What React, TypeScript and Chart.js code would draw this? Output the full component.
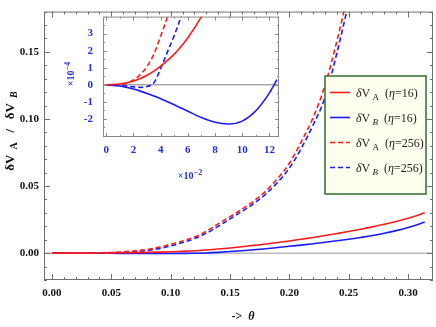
import React, { useEffect, useRef } from "react";
import { Chart, registerables } from "chart.js";

Chart.register(...registerables);

// ---------- main plot data (theta in rad, dV dimensionless) ----------
const theta = [0, 0.01, 0.02, 0.03, 0.04, 0.05, 0.06, 0.07, 0.08, 0.09, 0.1, 0.11, 0.12, 0.13, 0.14, 0.15, 0.16, 0.17, 0.18, 0.19, 0.2, 0.21, 0.22, 0.23, 0.24, 0.25, 0.26, 0.27, 0.28, 0.29, 0.3, 0.31, 0.314];
const dVA16 = [0, 0.000005, 0.000022, 0.000056, 0.00011, 0.00018, 0.00028, 0.0004, 0.00055, 0.00075, 0.001, 0.0014, 0.0018, 0.0024, 0.0031, 0.0039, 0.0048, 0.0058, 0.0068, 0.0079, 0.0091, 0.0104, 0.0117, 0.0131, 0.0146, 0.0161, 0.0178, 0.0196, 0.0215, 0.0236, 0.026, 0.0288, 0.0302];
const dVB16 = [0, -0.000008, -0.000026, -0.000052, -0.000083, -0.000117, -0.000155, -0.000193, -0.000222, -0.000231, -0.000212, -0.00015, -0.00004, 0.00015, 0.0006, 0.0012, 0.0018, 0.0025, 0.0033, 0.0042, 0.0051, 0.006, 0.007, 0.0081, 0.0092, 0.0104, 0.0117, 0.0131, 0.0148, 0.0168, 0.0192, 0.022, 0.0233];
const dVA256 = [0, 0.000002, 0.00003, 0.00011, 0.00029, 0.00054, 0.001, 0.0017, 0.0028, 0.0044, 0.0065, 0.009, 0.012, 0.0163, 0.0218, 0.0272, 0.0328, 0.0388, 0.0462, 0.0555, 0.067, 0.083, 0.101, 0.125, 0.158, 0.196, 0.238, null, null, null, null, null, null];
const dVB256 = [0, -0.000003, -0.000013, -0.00001, 0.00009, 0.00029, 0.00058, 0.0011, 0.002, 0.0034, 0.0054, 0.0079, 0.0109, 0.0148, 0.02, 0.0255, 0.0311, 0.0369, 0.044, 0.0527, 0.0635, 0.078, 0.0955, 0.116, 0.149, 0.187, 0.228, null, null, null, null, null, null];

const mainXTicks = [0, 0.05, 0.1, 0.15, 0.2, 0.25, 0.3];
const mainYTicks = [0, 0.05, 0.1, 0.15];

// ---------- inset data (theta in 10^-2 rad, dV in 10^-4) ----------
const insetTheta = [0, 1, 2, 2.5, 3, 3.5, 4, 4.5, 5, 5.5, 6, 7, 8, 9, 10, 11, 12, 12.55];
const insetVA16 = [0, 0.05, 0.22, 0.37, 0.56, 0.8, 1.09, 1.43, 1.8, 2.25, 2.76, 4.0, 5.5, null, null, null, null, null];
const insetVB16 = [0, -0.07, -0.25, -0.37, -0.51, -0.66, -0.82, -0.99, -1.17, -1.36, -1.55, -1.92, -2.2, -2.3, -2.13, -1.52, -0.47, 0.3];
const insetVA256 = [0, 0.02, 0.28, 0.6, 1.08, 1.8, 2.85, 4.0, 5.4, null, null, null, null, null, null, null, null, null];
const insetVB256 = [0, -0.03, -0.12, -0.15, -0.1, 0.12, 0.95, 1.93, 2.9, 4.0, 5.3, null, null, null, null, null, null, null];

const insetXTicks = [0, 2, 4, 6, 8, 10, 12];
const insetYTicks = [-2, -1, 0, 1, 2, 3];

const RED = "#ff1a1a";
const BLUE = "#1a1aff";
const LABEL_BLUE = "#1f2fe0";
const SERIF = '"Liberation Serif", "Times New Roman", serif';

type Run = { t: string; italic?: boolean; sub?: boolean; sup?: boolean };

function fontFor(r: Run, size: number, bold: boolean) {
  const s = r.sub || r.sup ? Math.round(size * 0.75) : size;
  return `${r.italic ? "italic " : ""}${bold ? "bold " : ""}${s}px ${SERIF}`;
}
function runsWidth(ctx: CanvasRenderingContext2D, runs: Run[], size: number, bold: boolean) {
  let w = 0;
  for (const r of runs) {
    ctx.font = fontFor(r, size, bold);
    w += ctx.measureText(r.t).width;
  }
  return w;
}
function drawRuns(ctx: CanvasRenderingContext2D, runs: Run[], x: number, y: number, size: number, bold: boolean, color: string, align: "left" | "center") {
  const total = runsWidth(ctx, runs, size, bold);
  let cx = align === "center" ? x - total / 2 : x;
  ctx.fillStyle = color;
  ctx.textBaseline = "alphabetic";
  ctx.textAlign = "left";
  for (const r of runs) {
    ctx.font = fontFor(r, size, bold);
    const dy = r.sub ? size * 0.3 : r.sup ? -size * 0.4 : 0;
    ctx.fillText(r.t, cx, y + dy);
    cx += ctx.measureText(r.t).width;
  }
}

function drawFrameTicks(chart: any, xMinorStep: number, yMinorStep: number, majLen: number, minLen: number, color: string, xMaj: number[], yMaj: number[]) {
  const { ctx, chartArea, scales } = chart;
  const { left, right, top, bottom } = chartArea;
  const xs = scales.x, ys = scales.y;
  ctx.save();
  ctx.strokeStyle = color;
  ctx.lineWidth = 1;
  ctx.strokeRect(left + 0.5, top + 0.5, right - left - 1, bottom - top - 1);
  ctx.beginPath();
  const start = Math.ceil(xs.min / xMinorStep - 1e-9);
  for (let i = start; i * xMinorStep <= xs.max + 1e-9; i++) {
    const v = i * xMinorStep;
    const isMaj = xMaj.some((m) => Math.abs(m - v) < 1e-9);
    const len = isMaj ? majLen : minLen;
    const px = Math.round(xs.getPixelForValue(v)) + 0.5;
    ctx.moveTo(px, bottom);
    ctx.lineTo(px, bottom - len);
    ctx.moveTo(px, top);
    ctx.lineTo(px, top + len);
  }
  const ystart = Math.ceil(ys.min / yMinorStep - 1e-9);
  for (let i = ystart; i * yMinorStep <= ys.max + 1e-9; i++) {
    const v = i * yMinorStep;
    const isMaj = yMaj.some((m) => Math.abs(m - v) < 1e-9);
    const len = isMaj ? majLen : minLen;
    const py = Math.round(ys.getPixelForValue(v)) + 0.5;
    ctx.moveTo(left, py);
    ctx.lineTo(left + len, py);
    ctx.moveTo(right, py);
    ctx.lineTo(right - len, py);
  }
  ctx.stroke();
  ctx.restore();
}

function zeroLine(chart: any, color: string, width: number) {
  const { ctx, chartArea, scales } = chart;
  const py = scales.y.getPixelForValue(0);
  ctx.save();
  ctx.strokeStyle = color;
  ctx.lineWidth = width;
  ctx.beginPath();
  ctx.moveTo(chartArea.left, py);
  ctx.lineTo(chartArea.right, py);
  ctx.stroke();
  ctx.restore();
}

function ds(xs: number[], ys: (number | null)[], color: string, dashed: boolean, clip?: number) {
  return {
    data: xs.map((x, i) => ({ x, y: ys[i] })),
    borderColor: color,
    backgroundColor: color,
    borderWidth: 1.6,
    borderDash: dashed ? [5, 3] : [],
    pointRadius: 0,
    cubicInterpolationMode: "monotone" as const,
    fill: false,
    spanGaps: false,
    ...(clip !== undefined ? { clip } : {}),
  };
}

const legendItems: { color: string; dashed: boolean; runs: Run[] }[] = [
  { color: RED, dashed: false, runs: [{ t: "δ", italic: true }, { t: "V" }, { t: " A", sub: true }, { t: "  (" }, { t: "η", italic: true }, { t: "=16)" }] },
  { color: BLUE, dashed: false, runs: [{ t: "δ", italic: true }, { t: "V" }, { t: " B", sub: true, italic: true }, { t: "  (" }, { t: "η", italic: true }, { t: "=16)" }] },
  { color: RED, dashed: true, runs: [{ t: "δ", italic: true }, { t: "V" }, { t: " A", sub: true }, { t: "  (" }, { t: "η", italic: true }, { t: "=256)" }] },
  { color: BLUE, dashed: true, runs: [{ t: "δ", italic: true }, { t: "V" }, { t: " B", sub: true, italic: true }, { t: "  (" }, { t: "η", italic: true }, { t: "=256)" }] },
];

export default function App() {
  const mainRef = useRef<HTMLCanvasElement | null>(null);
  const insetRef = useRef<HTMLCanvasElement | null>(null);

  useEffect(() => {
    const mainDeco = {
      id: "mainDeco",
      beforeDatasetsDraw(chart: any) {
        zeroLine(chart, "#9a9a9a", 1);
      },
      afterDraw(chart: any) {
        const ctx = chart.ctx as CanvasRenderingContext2D;
        drawFrameTicks(chart, 0.01, 0.01, 6, 3, "#6f6f6f", mainXTicks, mainYTicks);
        ctx.save();
        const lx = 325, ly = 76, lw = 101, lh = 118;
        ctx.fillStyle = "#fffff0";
        ctx.fillRect(lx, ly, lw, lh);
        ctx.strokeStyle = "#2e6e2e";
        ctx.lineWidth = 1.5;
        ctx.strokeRect(lx, ly, lw, lh);
        const rows = [92.5, 117.5, 142.5, 167.5];
        legendItems.forEach((it, i) => {
          const cy = rows[i];
          ctx.strokeStyle = it.color;
          ctx.lineWidth = 1.6;
          ctx.setLineDash(it.dashed ? [5, 3] : []);
          ctx.beginPath();
          ctx.moveTo(330, cy);
          ctx.lineTo(350, cy);
          ctx.stroke();
          ctx.setLineDash([]);
          drawRuns(ctx, it.runs, 356, cy + 4, 12, false, "#222", "left");
        });
        ctx.save();
        ctx.translate(9, 131);
        ctx.rotate(-Math.PI / 2);
        drawRuns(ctx, [{ t: "δV" }, { t: "  A", sub: true }, { t: "   /   δV" }, { t: "  B", sub: true, italic: true }], 0, 4.5, 13, true, "#111", "center");
        ctx.restore();
        drawRuns(ctx, [{ t: "->  " }, { t: "θ", italic: true }], 243, 320, 12, true, "#111", "center");
        ctx.restore();
      },
    };

    const axisCommon = {
      grid: { display: false, drawTicks: false },
      border: { display: false },
    };

    const main = new Chart(mainRef.current as HTMLCanvasElement, {
      type: "line",
      data: {
        datasets: [
          ds(theta, dVA16, RED, false),
          ds(theta, dVB16, BLUE, false),
          ds(theta, dVA256, RED, true),
          ds(theta, dVB256, BLUE, true),
        ] as any,
      },
      options: {
        animation: false,
        responsive: false,
        maintainAspectRatio: false,
        layout: { padding: { top: 1, right: 3, left: 0, bottom: 0 } },
        plugins: { legend: { display: false }, tooltip: { enabled: false } },
        scales: {
          x: {
            type: "linear",
            min: -0.0067,
            max: 0.321,
            ...axisCommon,
            ticks: {
              font: { family: SERIF, size: 11, weight: "bold" },
              color: "#111",
              padding: 7,
              maxRotation: 0,
              autoSkip: false,
              callback: (v: any) => Number(v).toFixed(2),
            },
            afterBuildTicks: (s: any) => {
              s.ticks = mainXTicks.map((v) => ({ value: v }));
            },
            afterFit: (s: any) => {
              s.height = 47;
            },
          },
          y: {
            type: "linear",
            min: -0.02,
            max: 0.18,
            ...axisCommon,
            ticks: {
              font: { family: SERIF, size: 11, weight: "bold" },
              color: "#111",
              padding: 5,
              autoSkip: false,
              callback: (v: any) => Number(v).toFixed(2),
            },
            afterBuildTicks: (s: any) => {
              s.ticks = mainYTicks.map((v) => ({ value: v }));
            },
            afterFit: (s: any) => {
              s.width = 44;
            },
          },
        },
      } as any,
      plugins: [mainDeco],
    });

    const insetDeco = {
      id: "insetDeco",
      beforeDatasetsDraw(chart: any) {
        const { ctx, chartArea } = chart;
        ctx.save();
        ctx.fillStyle = "#ffffff";
        ctx.fillRect(chartArea.left, chartArea.top, chartArea.right - chartArea.left, chartArea.bottom - chartArea.top);
        ctx.restore();
        zeroLine(chart, "#a8a8a8", 1.5);
      },
      afterDraw(chart: any) {
        const ctx = chart.ctx as CanvasRenderingContext2D;
        drawFrameTicks(chart, 1, 0.5, 4, 2, "#8a8a8a", insetXTicks, insetYTicks);
        ctx.save();
        drawRuns(ctx, [{ t: "×10" }, { t: "−2", sup: true }], 130, 179, 10, true, LABEL_BLUE, "center");
        ctx.translate(14, 74);
        ctx.rotate(-Math.PI / 2);
        drawRuns(ctx, [{ t: "×10" }, { t: "−4", sup: true }], 0, 0, 10, true, LABEL_BLUE, "center");
        ctx.restore();
      },
    };

    const inset = new Chart(insetRef.current as HTMLCanvasElement, {
      type: "line",
      data: {
        datasets: [
          ds(insetTheta, insetVA16, RED, false, 0),
          ds(insetTheta, insetVB16, BLUE, false, 0),
          ds(insetTheta, insetVA256, RED, true, 0),
          ds(insetTheta, insetVB256, BLUE, true, 0),
        ] as any,
      },
      options: {
        animation: false,
        responsive: false,
        maintainAspectRatio: false,
        layout: { padding: { top: 11, right: 6, left: 0, bottom: 0 } },
        plugins: { legend: { display: false }, tooltip: { enabled: false } },
        scales: {
          x: {
            type: "linear",
            min: -0.24,
            max: 12.7,
            ...axisCommon,
            ticks: {
              font: { family: SERIF, size: 11, weight: "bold" },
              color: LABEL_BLUE,
              padding: 7,
              maxRotation: 0,
              autoSkip: false,
              callback: (v: any) => String(Math.round(Number(v))),
            },
            afterBuildTicks: (s: any) => {
              s.ticks = insetXTicks.map((v) => ({ value: v }));
            },
            afterFit: (s: any) => {
              s.height = 48;
            },
          },
          y: {
            type: "linear",
            min: -3.06,
            max: 4.0,
            ...axisCommon,
            ticks: {
              font: { family: SERIF, size: 11, weight: "bold" },
              color: LABEL_BLUE,
              padding: 10,
              autoSkip: false,
              callback: (v: any) => String(Math.round(Number(v))),
            },
            afterBuildTicks: (s: any) => {
              s.ticks = insetYTicks.map((v) => ({ value: v }));
            },
            afterFit: (s: any) => {
              s.width = 43;
            },
          },
        },
      } as any,
      plugins: [insetDeco],
    });

    return () => {
      main.destroy();
      inset.destroy();
    };
  }, []);

  return (
    <div style={{ position: "fixed", left: 0, top: 0, width: 436, height: 327, background: "#fff" }}>
      <canvas ref={mainRef} width={436} height={327} style={{ position: "absolute", left: 0, top: 0, width: 436, height: 327 }} />
      <canvas ref={insetRef} width={225} height={185} style={{ position: "absolute", left: 60, top: 0, width: 225, height: 185 }} />
    </div>
  );
}
